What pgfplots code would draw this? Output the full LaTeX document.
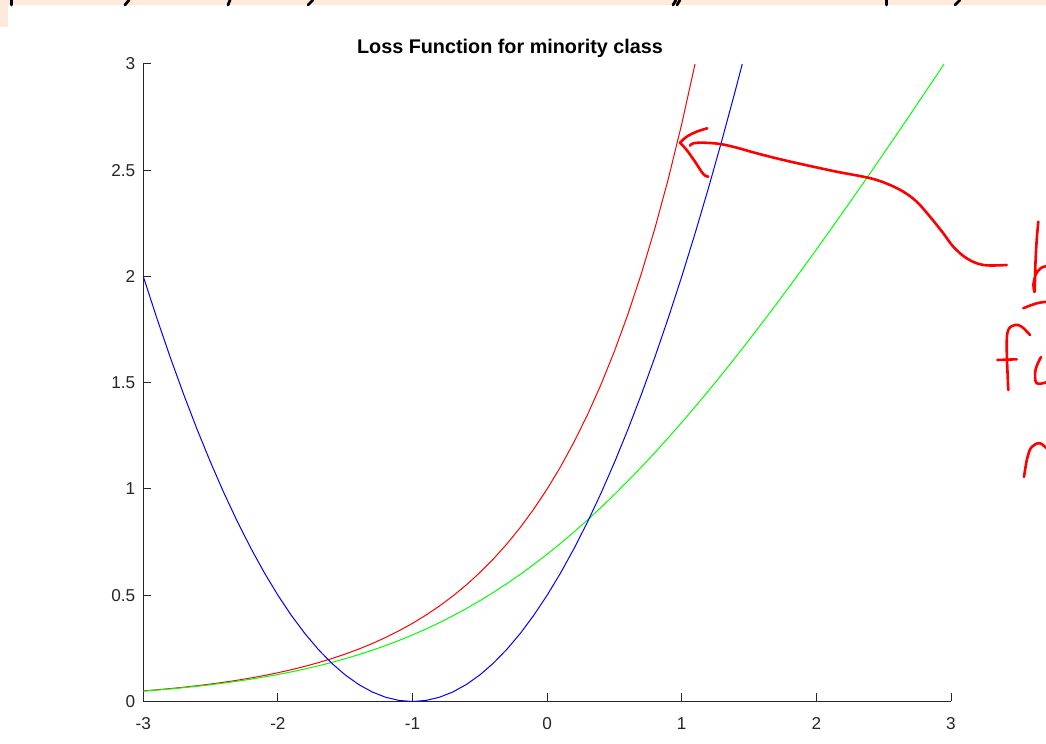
\documentclass[border=0pt]{standalone}
\usepackage{pgfplots}
\pgfplotsset{compat=1.18}
\usepackage{fontspec}
\setmainfont{Liberation Sans}
\definecolor{axgray}{RGB}{38,38,38}
\definecolor{peach}{RGB}{253,234,218}
\definecolor{mred}{RGB}{255,0,0}
\definecolor{mgreen}{RGB}{0,255,0}
\definecolor{mblue}{RGB}{0,0,255}
\definecolor{ink}{RGB}{255,0,0}

% exp(x)
\pgfplotstableread{
x y
-3.0 0.04979
-2.9 0.05502
-2.8 0.06081
-2.7 0.06721
-2.6 0.07427
-2.5 0.08208
-2.4 0.09072
-2.3 0.10026
-2.2 0.11080
-2.1 0.12246
-2.0 0.13534
-1.9 0.14957
-1.8 0.16530
-1.7 0.18268
-1.6 0.20190
-1.5 0.22313
-1.4 0.24660
-1.3 0.27253
-1.2 0.30119
-1.1 0.33287
-1.0 0.36788
-0.9 0.40657
-0.8 0.44933
-0.7 0.49659
-0.6 0.54881
-0.5 0.60653
-0.4 0.67032
-0.3 0.74082
-0.2 0.81873
-0.1 0.90484
0.0 1.00000
0.1 1.10517
0.2 1.22140
0.3 1.34986
0.4 1.49182
0.5 1.64872
0.6 1.82212
0.7 2.01375
0.8 2.22554
0.9 2.45960
1.0 2.71828
1.0986 3.00000
}\expdata

% log(1+exp(x))
\pgfplotstableread{
x y
-3.0 0.04859
-2.9 0.05356
-2.8 0.05903
-2.7 0.06505
-2.6 0.07164
-2.5 0.07889
-2.4 0.08684
-2.3 0.09555
-2.2 0.10508
-2.1 0.11552
-2.0 0.12693
-1.9 0.13939
-1.8 0.15298
-1.7 0.16778
-1.6 0.18390
-1.5 0.20141
-1.4 0.22042
-1.3 0.24100
-1.2 0.26328
-1.1 0.28733
-1.0 0.31326
-0.9 0.34115
-0.8 0.37111
-0.7 0.40319
-0.6 0.43749
-0.5 0.47408
-0.4 0.51302
-0.3 0.55436
-0.2 0.59814
-0.1 0.64440
0.0 0.69315
0.1 0.74440
0.2 0.79814
0.3 0.85436
0.4 0.91302
0.5 0.97408
0.6 1.03749
0.7 1.10319
0.8 1.17111
0.9 1.24115
1.0 1.31326
1.1 1.38733
1.2 1.46328
1.3 1.54100
1.4 1.62042
1.5 1.70141
1.6 1.78390
1.7 1.86778
1.8 1.95298
1.9 2.03939
2.0 2.12693
2.1 2.21552
2.2 2.30508
2.3 2.39555
2.4 2.48684
2.5 2.57889
2.6 2.67164
2.7 2.76505
2.8 2.85903
2.9 2.95356
2.9486 3.00000
}\logdata

% (1+x)^2/2
\pgfplotstableread{
x y
-3.0 2.000
-2.9 1.805
-2.8 1.620
-2.7 1.445
-2.6 1.280
-2.5 1.125
-2.4 0.980
-2.3 0.845
-2.2 0.720
-2.1 0.605
-2.0 0.500
-1.9 0.405
-1.8 0.320
-1.7 0.245
-1.6 0.180
-1.5 0.125
-1.4 0.080
-1.3 0.045
-1.2 0.020
-1.1 0.005
-1.0 0.000
-0.9 0.005
-0.8 0.020
-0.7 0.045
-0.6 0.080
-0.5 0.125
-0.4 0.180
-0.3 0.245
-0.2 0.320
-0.1 0.405
0.0 0.500
0.1 0.605
0.2 0.720
0.3 0.845
0.4 0.980
0.5 1.125
0.6 1.280
0.7 1.445
0.8 1.620
0.9 1.805
1.0 2.000
1.1 2.205
1.2 2.420
1.3 2.645
1.4 2.880
1.4495 3.000
}\sqdata

\begin{document}
\begin{tikzpicture}
\useasboundingbox (0,0) rectangle (523pt,372pt);
\fill[white] (0,0) rectangle (523pt,372pt);

% page strip behind the figure (pixel units, y downward)
\begin{scope}[shift={(0pt,372pt)}, x=0.5pt, y=-0.5pt]
  \fill[peach] (0,0) rectangle (1046,5);
  \fill[peach] (0,0) rectangle (8,27);
  \begin{scope}[black, line width=1.4pt, line cap=round]
    \draw (11.5,0) -- (11.5,5);
    \draw (129,0) -- (125,5);
    \draw (230,0) -- (228,5);
    \draw (313,0) -- (308,5);
    \draw (676,0) -- (673,5);
    \draw (680,0) -- (677,5);
    \draw (886.5,0) -- (886.5,5);
    \draw (960,0) -- (955,5);
  \end{scope}
\end{scope}

\begin{axis}[
  at={(71.65pt,21.25pt)}, anchor=south west,
  scale only axis, width=403.85pt, height=318.75pt,
  xmin=-3, xmax=3, ymin=0, ymax=3,
  axis x line=bottom, axis y line=left,
  axis line style={-, axgray, line width=0.5pt},
  tick style={axgray, line width=0.5pt},
  tick align=inside, major tick length=4pt,
  xtick={-3,-2,-1,0,1,2,3},
  ytick={0,0.5,1,1.5,2,2.5,3},
  /pgf/number format/assume math mode=true,
  tick label style={font=\fontsize{8.6}{10}\selectfont, text=axgray},
  xticklabel style={yshift=-4.5pt},
  yticklabel style={xshift=-0.5pt},
  clip=false,
]
\addplot[mred, line width=0.5pt] table {\expdata};
\addplot[mgreen, line width=0.5pt] table {\logdata};
\addplot[mblue, line width=0.5pt] table {\sqdata};
\end{axis}

\begin{scope}[shift={(0pt,372pt)}, x=0.5pt, y=-0.5pt]
  \node[font=\bfseries\fontsize{9.9}{12}\selectfont] at (510,48.5) {Loss Function for minority class};

  % handwritten arrow and note
  \begin{scope}[ink, line width=1.3pt, line cap=round, line join=round]
    \draw plot[smooth, tension=0.6] coordinates {
      (1006.7,265) (983.3,265) (966.7,258.3) (953.3,246.7) (943.3,233.3)
      (930,216.7) (916.7,201.7) (903.3,191.7) (890,185) (876.7,180)
      (863.3,176.7) (836.7,171.7) (810,166) (783.3,160) (756.7,153.3)
      (736.7,147.7) (720,144) (703.3,142.7) (693.3,143.3) (690,145.7)};
    \draw plot[smooth, tension=0.6] coordinates {
      (707.3,128.3) (696.7,131.7) (686.7,136.7) (680,142.7)};
    \draw plot[smooth, tension=0.6] coordinates {
      (680,142.7) (686.7,150) (695,161.7) (703.3,174) (708.3,176.7)};
    % b
    \draw plot[smooth, tension=0.5] coordinates {
      (1038.3,221.7) (1036.7,240) (1035.5,262) (1035,280) (1034.5,292)
      (1033.5,284) (1036,274) (1041,268) (1047,266)};
    \draw plot[smooth, tension=0.6] coordinates {
      (1023.3,308.3) (1036.7,303.3) (1048,301.7)};
    % f
    \draw plot[smooth, tension=0.6] coordinates {
      (1008.3,390) (1006.7,346.7) (1008.3,330) (1015,325) (1021.7,326.7) (1030,335)};
    \draw (997.3,360) -- (1016.7,359.3);
    % c
    \draw plot[smooth, tension=0.6] coordinates {
      (1041,357) (1035.5,370) (1036.7,383.3) (1048,381.7)};
    % n
    \draw plot[smooth, tension=0.6] coordinates {
      (1024,477) (1027.3,458) (1031.7,447) (1040,443.3) (1048,450)};
  \end{scope}
\end{scope}
\end{tikzpicture}
\end{document}
